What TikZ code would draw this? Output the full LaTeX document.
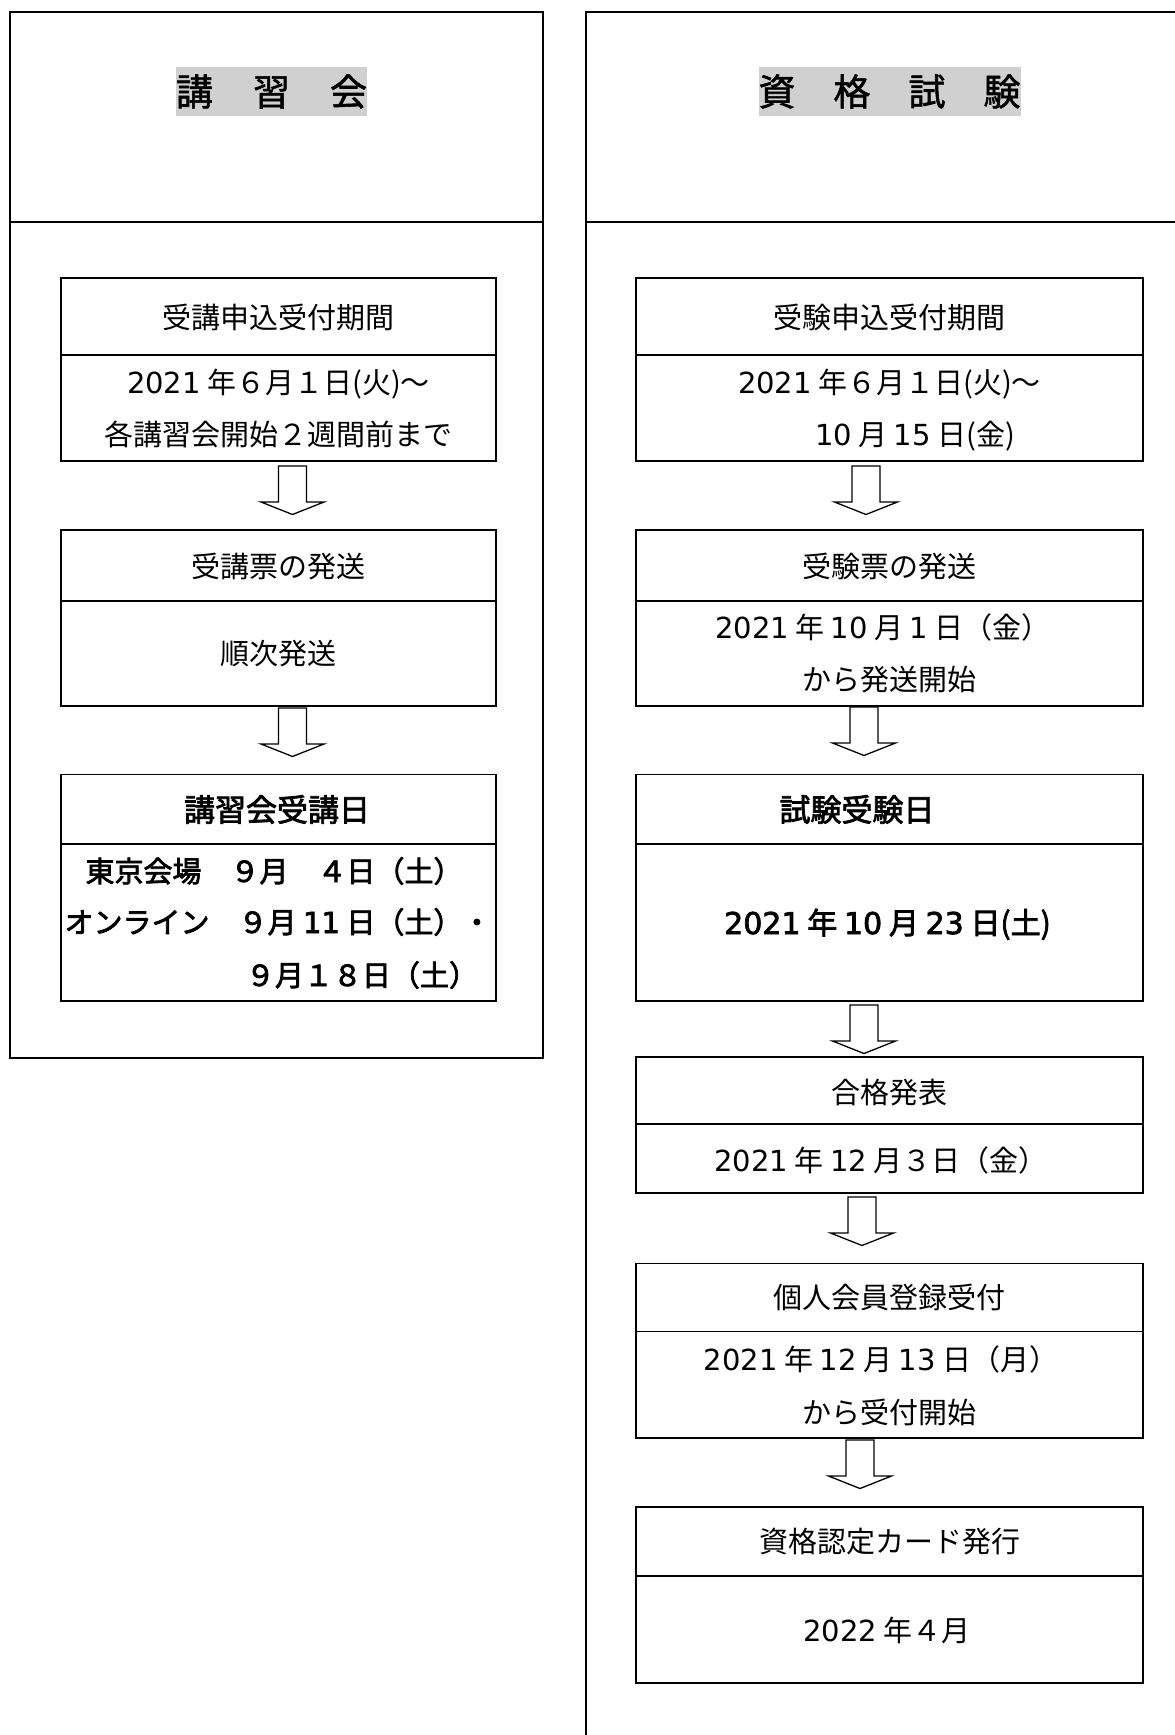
\documentclass[tikz,border=0pt]{standalone}
\usepackage{fontspec}
\setmainfont{Noto Sans CJK JP}
\newfontfamily\semib{Noto Sans CJK JP}[FakeBold=2.5]
\newfontfamily\ttlfont{Noto Sans CJK JP}[FakeBold=1.5]
\newfontfamily\dgfont{DejaVu Sans}
\newfontfamily\dgbfont{DejaVu Sans}[FakeBold=2.5]
\newcommand\dg[1]{{\dgfont #1}}
\newcommand\dgb[1]{{\dgbfont #1}}
\usetikzlibrary{calc}
\definecolor{titlegray}{RGB}{208,208,208}
\tikzset{
  frame/.style={draw, line width=2pt, inner sep=0pt, outer sep=0pt},
  cell/.style={draw, line width=1.8pt, inner sep=0pt, outer sep=0pt},
  rule/.style={line width=1.8pt},
  framerule/.style={line width=2pt},
  txt/.style={inner sep=0pt, outer sep=0pt, text height=22pt, text depth=0pt, font=\fontsize{29}{35}\selectfont},
  txtb/.style={txt, font=\fontsize{29}{35}\selectfont\semib},
  bigb/.style={inner sep=0pt, outer sep=0pt, text height=23.5pt, text depth=0pt, font=\fontsize{31}{37}\selectfont\semib},
  ttl/.style={fill=titlegray, inner xsep=0pt, inner ysep=0pt, minimum height=49pt, text height=28pt, text depth=0pt, font=\fontsize{37}{44}\selectfont\ttlfont},
  pics/barrow/.style={code={
    \draw[line width=1.3pt, fill=white, line join=miter]
      (-14,0) -- (-14,36) -- (-31.5,36) -- (0,48.5) -- (31.5,36) -- (14,36) -- (14,0) -- cycle;}},
}
\begin{document}
\begin{tikzpicture}[x=1pt,y=-1pt]
\useasboundingbox (0,0) rectangle (1175,1735);
\clip (0,0) rectangle (1175,1735);
\fill[white] (0,0) rectangle (1175,1735);

% outer frames
\node[frame, minimum width=533.4pt, minimum height=1046.3pt] (LF) at (276.3,534.9) {};
\node[frame, minimum width=614.3pt, minimum height=1748.3pt] (RF) at (892.85,885.85) {};
\coordinate (hy) at (0,222);
\draw[framerule] (LF.west |- hy) -- (LF.east |- hy);
\draw[framerule] (RF.west |- hy) -- (RF.east |- hy);

% titles
\node[ttl] (T1) at (271.5,91.5) {講\hspace{40pt}習\hspace{40pt}会};
\node[ttl] (T2) at (889.5,91.5) {資\hspace{38pt}格\hspace{38pt}試\hspace{38pt}験};

% ---------- left column ----------
\node[cell, minimum width=435pt, minimum height=183pt] (L1) at (278.5,369.5) {};
\draw[rule] ($(L1.north west)+(0,77)$) -- ($(L1.north east)+(0,77)$);
\node[txt] (L1t) at (278.5,317) {受講申込受付期間};
\node[txt] (L1a) at (278.5,382) {\dg{2021} 年６月１日(火)～};
\node[txt] (L1b) at (278.5,434) {各講習会開始２週間前まで};

\node[cell, minimum width=435pt, minimum height=176pt] (L2) at (278.5,618) {};
\draw[rule] ($(L2.north west)+(0,71)$) -- ($(L2.north east)+(0,71)$);
\node[txt] (L2t) at (278.5,566) {受講票の発送};
\node[txt] (L2a) at (278.5,653) {順次発送};

\node[cell, minimum width=435pt, minimum height=226.5pt] (L3) at (278.5,887.75) {};
\draw[rule] ($(L3.north west)+(0,69.5)$) -- ($(L3.north east)+(0,69.5)$);
\node[bigb] (L3t) at (277,809.5) {講習会受講日};
\node[txtb] (L3a) at (274,871) {東京会場　９月　４日（土）};
\node[txtb] (L3b) at (278,922) {オンライン　９月 \dgb{11} 日（土）・};
\node[txtb] (L3c) at (362,975) {９月１８日（土）};

\pic at ($(L1.south)+(14,5)$) {barrow};
\pic at ($(L2.south)+(14,2)$) {barrow};

% ---------- right column ----------
\node[cell, minimum width=507pt, minimum height=183pt] (R1) at (889.5,369.5) {};
\draw[rule] ($(R1.north west)+(0,77)$) -- ($(R1.north east)+(0,77)$);
\node[txt] (R1t) at (889.5,317) {受験申込受付期間};
\node[txt] (R1a) at (889.5,382) {\dg{2021} 年６月１日(火)～};
\node[txt] (R1b) at (915,434) {\dg{10} 月 \dg{15} 日(金)};

\node[cell, minimum width=507pt, minimum height=176pt] (R2) at (889.5,618) {};
\draw[rule] ($(R2.north west)+(0,71)$) -- ($(R2.north east)+(0,71)$);
\node[txt] (R2t) at (889.5,566) {受験票の発送};
\node[txt] (R2a) at (883,627) {\dg{2021} 年 \dg{10} 月 \dg{1} 日（金）};
\node[txt] (R2b) at (889.5,679) {から発送開始};

\node[cell, minimum width=507pt, minimum height=226.5pt] (R3) at (889.5,887.75) {};
\draw[rule] ($(R3.north west)+(0,69.5)$) -- ($(R3.north east)+(0,69.5)$);
\node[bigb] (R3t) at (857,809.5) {試験受験日};
\node[txtb, font=\fontsize{30}{36}\selectfont\semib] (R3a) at (887.5,923) {\dgb{2021} 年 \dgb{10} 月 \dgb{23} 日(土)};

\node[cell, minimum width=507pt, minimum height=136pt] (R4) at (889.5,1125) {};
\draw[rule] ($(R4.north west)+(0,67)$) -- ($(R4.north east)+(0,67)$);
\node[txt] (R4t) at (889.5,1092.5) {合格発表};
\node[txt] (R4a) at (881,1160) {\dg{2021} 年 \dg{12} 月３日（金）};

\node[cell, minimum width=507pt, minimum height=174.5pt] (R5) at (889.5,1350.75) {};
\draw[rule] ($(R5.north west)+(0,68)$) -- ($(R5.north east)+(0,68)$);
\node[txt] (R5t) at (889.5,1297.5) {個人会員登録受付};
\node[txt] (R5a) at (881,1359) {\dg{2021} 年 \dg{12} 月 \dg{13} 日（月）};
\node[txt] (R5b) at (889.5,1412) {から受付開始};

\node[cell, minimum width=507pt, minimum height=176pt] (R6) at (889.5,1595) {};
\draw[rule] ($(R6.north west)+(0,69)$) -- ($(R6.north east)+(0,69)$);
\node[txt] (R6t) at (889.5,1541) {資格認定カード発行};
\node[txt] (R6a) at (887,1630) {\dg{2022} 年４月};

\pic at ($(R1.south)+(-23.5,5)$) {barrow};
\pic at ($(R2.south)+(-25.5,1)$) {barrow};
\pic at ($(R3.south)+(-25.5,4)$) {barrow};
\pic at ($(R4.south)+(-27.5,4)$) {barrow};
\pic at ($(R5.south)+(-29.5,2)$) {barrow};
\end{tikzpicture}
\end{document}
